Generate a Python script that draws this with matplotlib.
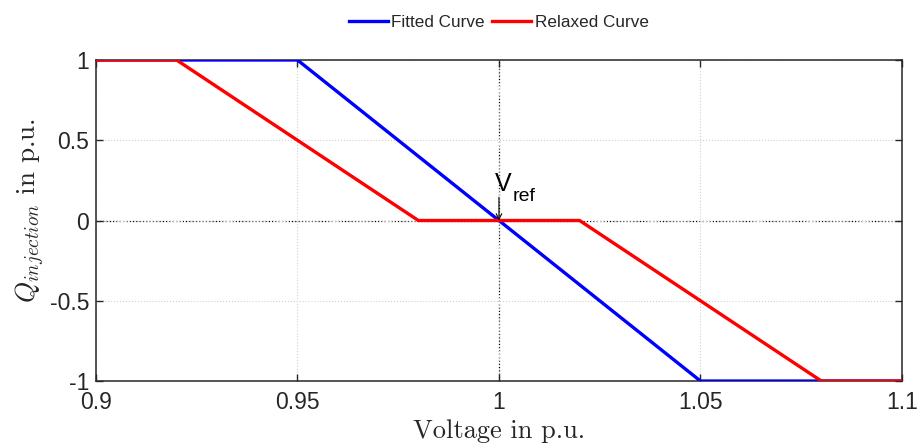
import matplotlib
matplotlib.use("Agg")
import matplotlib.pyplot as plt

plt.rcParams['font.family'] = ['Liberation Sans', 'DejaVu Sans']
plt.rcParams['mathtext.fontset'] = 'cm'

fitted_v = [0.90, 0.95, 1.00, 1.05, 1.10]
fitted_q = [1, 1, 0, -1, -1]
relaxed_v = [0.90, 0.92, 0.98, 1.02, 1.08, 1.10]
relaxed_q = [1, 1, 0, 0, -1, -1]
xticks = [0.9, 0.95, 1, 1.05, 1.1]
xticklabels = ['0.9', '0.95', '1', '1.05', '1.1']
yticks = [-1, -0.5, 0, 0.5, 1]
yticklabels = ['-1', '-0.5', '0', '0.5', '1']

txt = '#262626'
fig = plt.figure(figsize=(9.2, 4.46), dpi=100)
ax = fig.add_axes([0.1043, 0.1457, 0.8761, 0.7198])

ax.grid(True, color='#d0d0d0', linestyle=':', linewidth=0.8)
ax.axvline(1.0, color='black', linestyle=':', linewidth=0.9, zorder=1)
ax.axhline(0.0, color='black', linestyle=':', linewidth=0.9, zorder=1)

ax.plot(fitted_v, fitted_q, color='#0000ff', linewidth=2.4, label='Fitted Curve', zorder=3)
ax.plot(relaxed_v, relaxed_q, color='#ff0000', linewidth=2.4, label='Relaxed Curve', zorder=3)

ax.set_xlim(0.9, 1.1)
ax.set_ylim(-1, 1)
ax.set_xticks(xticks)
ax.set_xticklabels(xticklabels)
ax.set_yticks(yticks)
ax.set_yticklabels(yticklabels)
ax.tick_params(direction='in', labelsize=16.5, length=5, width=1, top=True, right=True,
               colors=txt, labelcolor=txt)
ax.tick_params(axis='x', pad=7)
ax.tick_params(axis='y', pad=5)
for s in ax.spines.values():
    s.set_linewidth(1.1)
    s.set_color(txt)

ax.set_xlabel('Voltage in p.u.', fontsize=19, family='cmr10', labelpad=4, color=txt)
ax.set_ylabel(r'$Q_{injection}$ in p.u.', fontsize=19.5, family='cmr10', labelpad=2, color=txt)
ax.yaxis.label.set_y(0.53)

ax.annotate('', xy=(1.0, 0.0), xytext=(1.0, 0.145),
            arrowprops=dict(arrowstyle='->', color='black', lw=0.8, shrinkA=0, shrinkB=0))
ax.text(1.0011, 0.23, 'V', fontsize=18, ha='center', va='center', color='black')
ax.text(1.0033, 0.15, 'ref', fontsize=14, ha='left', va='center', color='black')

leg = fig.legend(loc='upper center', bbox_to_anchor=(0.542, 1.0), ncol=2, frameon=False,
                 fontsize=12.3, handlelength=2.3, handletextpad=0.2, columnspacing=0.4)
for t in leg.get_texts():
    t.set_color(txt)

fig.savefig('out.png', dpi=100)
